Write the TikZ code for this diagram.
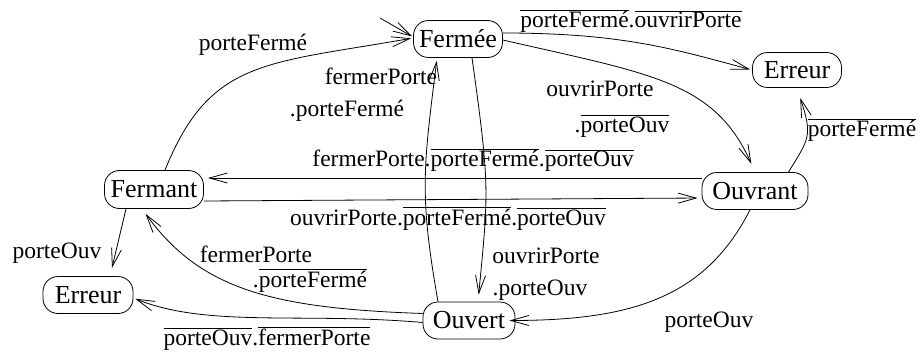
\documentclass[tikz,border=0pt]{standalone}
\usepackage{fontspec}
\setmainfont{Liberation Serif}
\usetikzlibrary{arrows.meta}
\newcommand{\ovl}[1]{\ensuremath{\overline{\hbox{#1}}}}
\begin{document}
\begin{tikzpicture}[x=1pt,y=1pt,
  state/.style={draw, line width=0.8pt, rounded corners=15pt, minimum height=37pt,
    inner sep=0pt, font=\fontsize{26}{30}\selectfont},
  lab/.style={inner sep=0pt, anchor=base, font=\fontsize{23.5}{28}\selectfont},
  arr/.style={line width=0.8pt, -{Straight Barb[length=18pt,width=10pt]}}]
\useasboundingbox (0,0) rectangle (918,354);
% states
\node[state, minimum width=89pt] (Fermee) at (458,315) {Fermée};
\node[state, minimum width=89pt, minimum height=35pt] (ErrA) at (797,284) {Erreur};
\node[state, minimum width=106pt] (Ouvrant) at (755,163) {Ouvrant};
\node[state, minimum width=99pt, minimum height=38pt] (Fermant) at (154,164.5) {Fermant};
\node[state, minimum width=90pt] (ErrB) at (88,59) {Erreur};
\node[state, minimum width=92pt] (Ouvert) at (469,33.5) {Ouvert};
\coordinate (init) at (380,336);
% labels
\node[lab] (l1) at (253,303) {porteFermé};
\node[lab] (l2) at (381,269) {fermerPorte};
\node[lab] (l3) at (347,237) {.porteFermé};
\node[lab] (l4) at (631,326) {\ovl{porteFermé}.\ovl{ouvrirPorte}};
\node[lab] (l5) at (600,257) {ouvrirPorte};
\node[lab] (l6) at (622,222) {.\ovl{porteOuv}};
\node[lab] (l7) at (862,217) {\ovl{porteFermé}};
\node[lab] (l8) at (473,187) {fermerPorte.\ovl{porteFermé}.\ovl{porteOuv}};
\node[lab] (l9) at (448,129) {ouvrirPorte.\ovl{porteFermé}.\ovl{porteOuv}};
\node[lab] (l10) at (546,91) {ouvrirPorte};
\node[lab] (l11) at (540,59) {.porteOuv};
\node[lab] (l12) at (709,27) {porteOuv};
\node[lab] (l13) at (256,92) {fermerPorte};
\node[lab] (l14) at (310,67) {.\ovl{porteFermé}};
\node[lab] (l15) at (267,9) {\ovl{porteOuv}.\ovl{fermerPorte}};
\node[lab] (l16) at (57,96) {porteOuv};
% edges
\draw[arr, shorten >=1pt] (init) -- ([yshift=2pt]Fermee.west);
\draw[arr, shorten >=2pt] ([xshift=11pt]Fermant.north) .. controls +(68:120) and +(190:150) .. ([yshift=1pt]Fermee.west);
\draw[arr, shorten >=2pt] ([yshift=6pt]Fermee.east) .. controls +(0:120) and +(165:80) .. (ErrA.west);
\draw[arr, shorten >=9pt] ([yshift=-1pt]Fermee.east) .. controls +(-13:150) and +(114:100) .. (Ouvrant.north);
\draw[arr, shorten >=10.5pt] ([xshift=-20pt]Ouvrant.north east) .. controls +(58:40) and +(-72:50) .. (ErrA.south);
\draw[arr, shorten >=4pt] ([yshift=13pt]Ouvrant.west) -- ([yshift=11.5pt]Fermant.east);
\draw[arr, shorten >=4pt] ([yshift=-11.5pt]Fermant.east) -- ([yshift=-7pt]Ouvrant.west);
\draw[arr, shorten >=7pt] ([xshift=14pt]Fermee.south) .. controls +(-82:130) and +(84.5:110) .. ([xshift=9pt]Ouvert.north);
\draw[arr, shorten >=3pt] ([xshift=-31pt]Ouvert.north) .. controls +(100:110) and +(-97:110) .. ([xshift=-21pt]Fermee.south);
\draw[arr] ([xshift=-5pt]Ouvrant.south) .. controls +(-117:100) and +(0:120) .. ([xshift=-6pt]Ouvert.east);
\draw[arr, shorten >=6pt] ([yshift=7pt]Ouvert.west) .. controls +(178:150) and +(-54:100) .. ([xshift=-12pt]Fermant.south);
\draw[arr, shorten >=2pt] ([yshift=-2pt]Ouvert.west) .. controls +(175:120) and +(-22:80) .. ([yshift=-3pt]ErrB.east);
\draw[arr, shorten >=8.5pt] ([xshift=-28pt]Fermant.south) -- ([xshift=22pt]ErrB.north);
\end{tikzpicture}
\end{document}
